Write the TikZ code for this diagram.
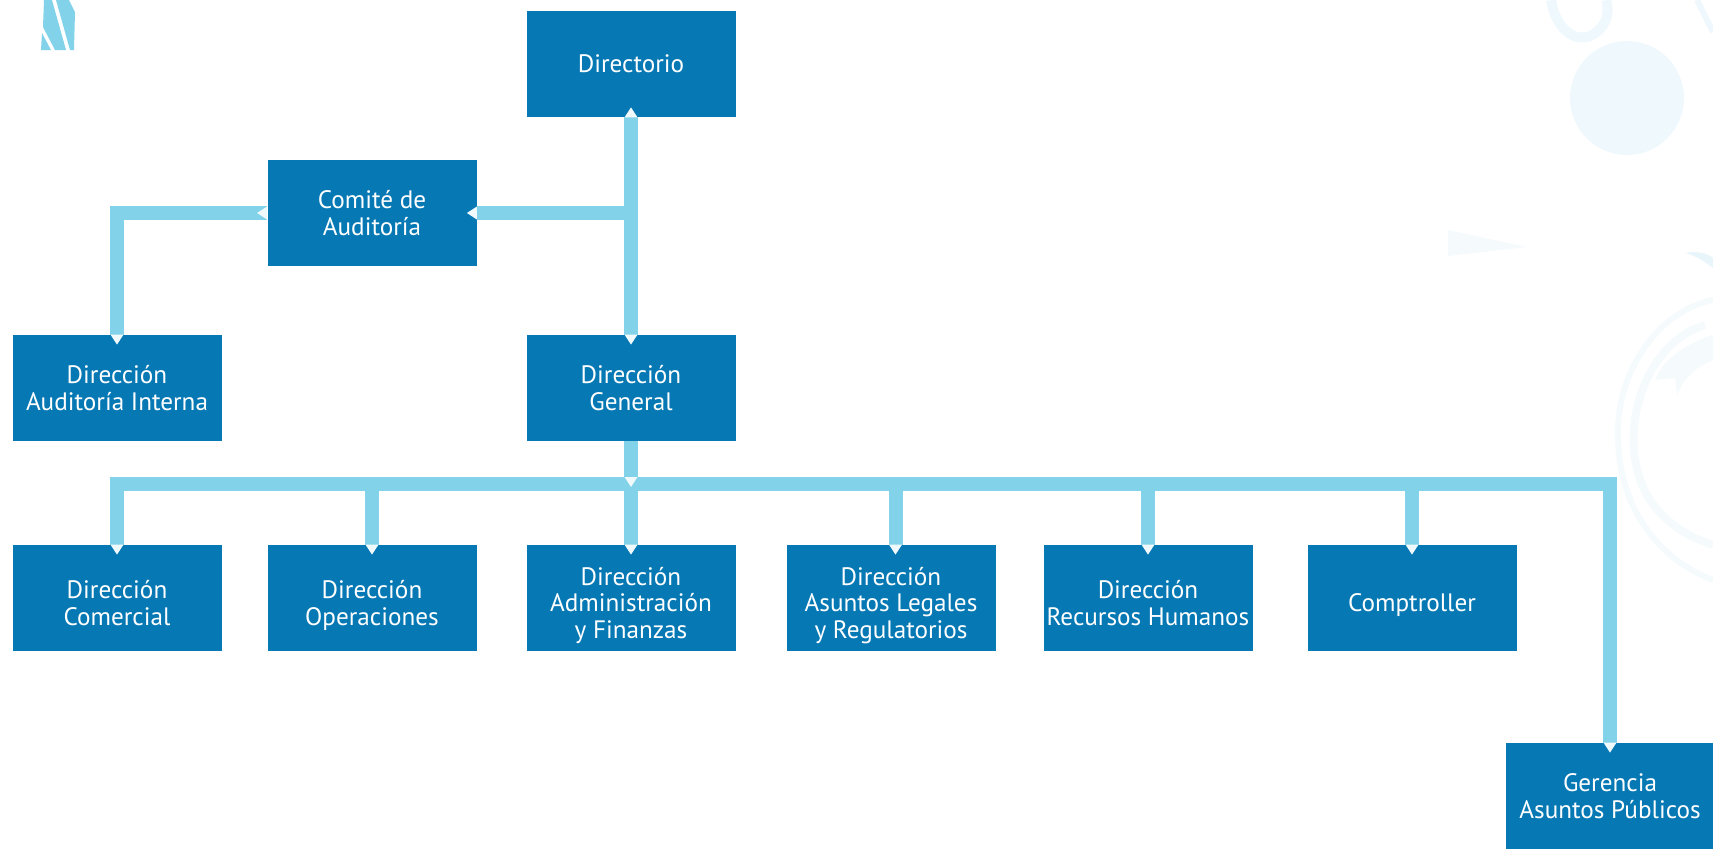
\documentclass[tikz,border=0pt]{standalone}
\usepackage{fontspec}
\setmainfont{PT Sans}
\usepackage{tikz}
\usetikzlibrary{arrows.meta}
\pgfdeclarelayer{bg}
\pgfsetlayers{bg,main}
\definecolor{boxblue}{HTML}{0678B4}
\definecolor{linkblue}{HTML}{82D2EA}
\definecolor{tipwhite}{HTML}{F0FAFD}
\definecolor{swirl}{HTML}{EFF8FC}
\definecolor{swirlpale}{HTML}{F5FAFD}
\newlength{\firstrise}
\newcommand{\boxlift}{\rule{0pt}{\firstrise}}
\tikzset{every picture/.append style={x=0.5pt, y=-0.5pt}}
\tikzset{
    every node/.style={rectangle, fill=boxblue, text=white, inner sep=0pt,
    	minimum width=104.5pt, minimum height=53pt, align=center,
    	font=\fontsize{12.6}{13.4}\selectfont,
    	execute at begin node={\setlength{\firstrise}{12.85pt}},
    	execute at end node={\rule[-4pt]{0pt}{0pt}}}
}
\tikzset{row/.style={execute at begin node={\setlength{\firstrise}{17.85pt}}}}
\tikzset{link/.style={draw=linkblue, line width=7pt,
	>={Triangle[width=6.5pt, length=5pt, line width=0pt, color=tipwhite]}}}

\begin{document}
\begin{tikzpicture}
	\useasboundingbox (0,0) rectangle (1713,848);
	\begin{pgfonlayer}{bg}
		% faint background ornaments
		\fill[linkblue] (42,33) -- (51,50) -- (41,50) -- cycle;
		\fill[linkblue] (44,0) -- (52,0) -- (66,50) -- (55,50) -- (43,27) -- cycle;
		\fill[linkblue] (56,0) -- (69,0) -- (75,12) -- (74,50) -- (70,50) -- cycle;
		\fill[swirl] (1627,98) circle[radius=28.5pt];
		\draw[swirl, line width=5pt] (1551,0) .. controls (1556,30) and (1575,42) .. (1590,36)
			.. controls (1604,30) and (1611,15) .. (1606,0);
		\draw[swirl, line width=3pt] (1697,0) -- (1713,32);
		\fill[swirlpale] (1448,230) -- (1527,247) -- (1448,256) -- cycle;
		\fill[swirl!80!linkblue!60] (1685,253) .. controls (1700,250) and (1710,255) .. (1713,258)
			-- (1713,268) .. controls (1705,262) and (1695,255) .. cycle;
		\draw[swirlpale, line width=3pt] (1713,300) .. controls (1660,310) and (1615,370) .. (1618,440)
			.. controls (1620,510) and (1660,560) .. (1713,580);
		\draw[swirlpale, line width=4pt] (1705,325) .. controls (1655,340) and (1630,400) .. (1634,450)
			.. controls (1638,500) and (1668,530) .. (1713,545);
		\fill[swirlpale] (1713,335) .. controls (1680,345) and (1660,365) .. (1655,380)
			-- (1675,378) -- (1677,395) .. controls (1685,375) and (1700,365) .. (1713,360) -- cycle;
	\end{pgfonlayer}

	\node (1) at (631, 64) {\boxlift Directorio};
	\node (2) at (372, 213) {\boxlift Comité de\\Auditoría};
	\node (3) at (117, 388) {\boxlift Dirección\\Auditoría Interna};
	\node (4) at (631, 388) {\boxlift Dirección\\General};
	\node (5) [row] at (117, 598) {\boxlift Dirección\\Comercial};
	\node (6) [row] at (372, 598) {\boxlift Dirección\\Operaciones};
	\node (7) [row] at (631, 598) {\boxlift Dirección\\Administración\\y Finanzas};
	\node (8) [row] at (891, 598) {\boxlift Dirección\\Asuntos Legales\\y Regulatorios};
	\node (9) [row] at (1148, 598) {\boxlift Dirección\\Recursos Humanos};
	\node (10) [row] at (1412, 598) {\boxlift Comptroller};
	\node (11) at (1610, 796) {\boxlift Gerencia\\Asuntos Públicos};
	\coordinate (bus) at (631, 484);

	\draw [link, <->] ([yshift=5pt]1.south) -- ([yshift=-5pt]4.north);
	\draw [link, ->] (1.south |- 2.east) -- ([xshift=-5pt]2.east);
	\draw [link, ->] (2.west) -| ([yshift=-5pt]3.north);
	\fill [tipwhite] ([yshift=3.25pt]2.west) -- ([xshift=-5pt]2.west)
		-- ([yshift=-3.25pt]2.west) -- cycle;

	\draw [link, <->] ([yshift=-5pt]5.north) |- (bus) -| ([yshift=-5pt]11.north);
	\foreach \n in {6,7,9,10}
		\draw [link, ->] (bus -| \n.north) -- ([yshift=-5pt]\n.north);
	\draw [link, ->] ([xshift=2.25pt]bus -| 8.north) -- ([xshift=2.25pt, yshift=-5pt]8.north);
	\draw [link, ->] (4.south) -- ([yshift=-1.5pt]bus);
\end{tikzpicture}
\end{document}
